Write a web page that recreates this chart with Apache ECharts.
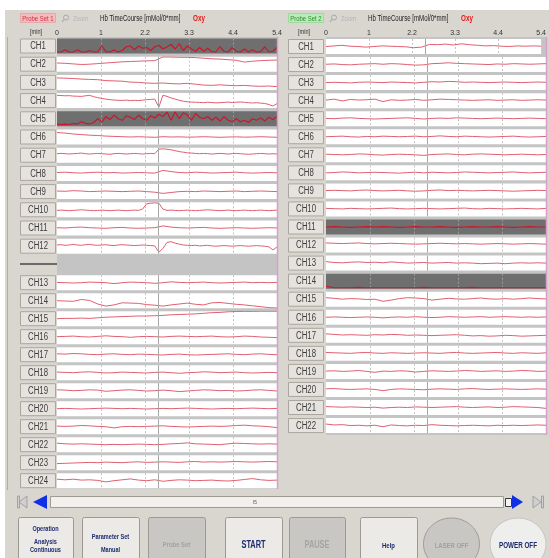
<!DOCTYPE html>
<html>
<head>
<meta charset="utf-8">
<script src="https://cdn.jsdelivr.net/npm/echarts@6/dist/echarts.min.js"></script>
<style>
  html, body { margin: 0; padding: 0; background: #ffffff; }
  #chart { width: 549px; height: 558px; }
</style>
</head>
<body>
<div id="chart"></div>
<script>
// Sample times in minutes (coarse and fine grids)
const TIME = [0,0.2,0.4,0.6,0.8,1.0,1.2,1.4,1.6,1.8,2.0,2.2,2.4,2.6,2.8,3.0,3.2,3.4,3.6,3.8,4.0,4.2,4.4,4.6,4.8,5.0,5.2,5.4];
const TIME_FINE = [0,0.1,0.2,0.3,0.4,0.5,0.6,0.7,0.8,0.9,1.0,1.1,1.2,1.3,1.4,1.5,1.6,1.7,1.8,1.9,2.0,2.1,2.2,2.3,2.4,2.5,2.6,2.7,2.8,2.9,3.0,3.1,3.2,3.3,3.4,3.5,3.6,3.7,3.8,3.9,4.0,4.1,4.2,4.3,4.4,4.5,4.6,4.7,4.8,4.9,5.0,5.1,5.2,5.3,5.4];
const TICK_LABELS = ['0','1','2.2','3.3','4.4','5.4'];
const MARKER_TIME = 2.48;

// Probe Set 1 — Oxy-Hb traces
const P1_CH1 = [1,1,2.5,1,1, 2.5,1,1,2,1, 1,5,1.2,1,2.5, 1,2,4.5,5,2.5, 5,3.5,4,2,4.5, 5.5,3,4.5,6,3, 6.5,2,5,3,1.5, 4,1.5,3.5,1.2,1, 4.5,1.5,1,4,1.5, 1,3,1,2.5,1, 1.2,4.5,1,1.5,4];
const P1_CH2 = [5.8,5.6,5.2,4.8,5,5.4,5.8,6.2,6.6,6.8,7,7.2,7.4,9.8,9.8,9.6,9.6,9.4,9,8.6,8.4,8,7.6,6.4,7,7.4,7.6,7.8];
const P1_CH3 = [8,7.8,7.6,7.2,7,6.8,6.2,6,5.8,5.2,5,4.6,4.4,4.6,4.2,4,4.4,3.8,3.2,3,3.4,3,2.8,3,2.6,2.4,2.6,2.2];
const P1_CH4 = [8.5,8.4,8.2,8.3,8,7.9,7.8,8.2,8.5,7.6, 7,6.4,6,5.6,5.4,5.2,5.1,5.3,5,5.2, 5,5.3,5.6,5.8,6,0.6,8.6,7.8,6.8,6, 5.2,4.6,4.2,4,3.9,3.8,3.6,3.9,3.7,3.5, 3.6,3.8,4,3.7,3.9,4.1,3.8,3.6,3.4,3.6, 3.3,3.1,2.4,1.4,3];
const P1_CH5 = [1.5,1.2,1.5,1.2,2, 1.5,3,2,1.5,2.5, 5,3,6.5,4.5,7.5, 5,4,7,6,4.5, 7.5,5,4,7,5.5, 8,6.5,9.5,4,9.5, 5,9,7.5,4,8.5, 6,5,6.5,4,6, 3.5,6.5,4,3,5, 3,4,2.5,5,4, 5.5,3.5,6,4.5,6.5];
const P1_CH6 = [8,7.6,7,6.6,6.2,6,5.6,5.4,5.2,5,5.2,5,4.8,5.2,5,5.1,4.9,5,5.2,5,4.8,5,5.1,4.9,5,5.2,5,4.8];
const P1_CH7 = [6,6.2,6,5.8,6,6.2,6.4,6,5.8,6, 6.2,6,5.8,5.6,6,6.2,6,5.8,6,6.2, 6,5.8,6,6.2,6, 9,9.2,9,8.6,8, 7.4,7,6.6,6.4,6.2, 6,6.2,6,5.8,6, 6.2,6,5.8,6,6.2, 6,5.8,5.6,5.8,6, 6.2,6,5.8,6,5.8];
const P1_CH8 = [5.6,5.8,5.4,5.2,5.6,5.8,5.4,5.6,5.2,5.4,5.6,5.4,5.2,7,6.2,5.6,5.4,5.8,5.6,5.2,5.4,5.6,5.8,5.4,5.2,5.4,5.6,5.4];
const P1_CH9 = [5.4,5.2,5.6,5.4,5,5.2,5.4,5.2,5,5.2,5.4,5,4.6,3.8,4.4,5,5.2,5,5.4,5.2,5,5.2,5.4,5,5.2,5.4,5.2,5];
const P1_CH10 = [4.6,4.8,4.6,4.4,4.6,4.8,5,4.8,4.6,4.4, 4.6,4.8,4.6,4.4,4.6,4.8,4.6,4.4,4.6,4.8, 4.6,5.5,9,9.4,9.6, 9.4,5.5,4.6,4.8,4.6, 4.4,4.6,4.8,4.6,4.4,4.6,4.8,5,4.8,4.6, 4.4,4.6,4.8,4.6,4.4,4.6,4.8,4.6,4.4,4.6, 4.8,4.6,4.4,4.6,4.8];
const P1_CH11 = [5.2,5,5.4,5.6,5.2,5,4.8,5.2,5.4,5,4.8,5,5.2,6.4,5.6,5.2,5,5.2,5.4,5,4.8,5,5.2,5,4.8,5,5.2,5];
const P1_CH12 = [5.8,6,5.6,5.8,6.2,5.8,5.6,6,6.2,5.8, 5.6,5.8,6,5.6,5.4,5.8,6,5.8,5.6,5.4, 5.6,5.8,5.6,5.4,5.2, 1,3.5,7.5,8,7, 6.4,5.8,5.6,5.4,5.6, 5.2,5.4,5.6,5.2,5, 5.2,5.4,5.2,5,5.2, 5.4,5.2,5,5.2,5.4, 5.2,5,4.6,2.5,4.5];
const P1_CH13 = [5.2,5,4.8,5,5.4,5.2,5,4.4,5,5.4,5.2,5,4.6,5,5.6,5.2,5,5.2,5.4,5,4.8,5,5.2,5.4,5,5.2,5,5.2];
const P1_CH14 = [5,4.8,4.6,5.8,5.2,2.8,1.4,2.2,3.6,3.4,3.2,2.4,2,1.4,2.2,2.8,3.4,2.6,2.2,3.6,3.8,3.2,2.6,2.2,1.6,1,0.4,0.1];
const P1_CH15 = [5,5.2,5.2,5.4,5.2,5.6,6,6.2,6.4,6.6,6.8,6.8,7,7.2,7.6,7.8,8,8.2,8.6,9,9.2,9.6,9.8,9.9,9.9,10,10,10];
const P1_CH16 = [5,5.2,5.4,5,4.8,5.2,5.6,5.2,5,4.6,5,5.2,5,4.8,5.2,5.4,5.2,5,5.2,5.4,5,4.8,5,5.4,5.2,4.8,4.6,4.4];
const P1_CH17 = [5.6,5.4,5.8,5.6,5.2,5,5.4,5.6,5.2,5,5.4,5.2,5,4.8,5.2,5.4,5,4.8,5,5.2,5.4,5.6,5.2,5,5.4,5.6,5.2,5];
const P1_CH18 = [5.4,5.2,5,5.4,5.6,5.2,4.8,5,5.4,5.2,5,4.8,5.2,5.4,5,4.6,5,5.2,5.6,5.4,5,5.2,5.4,5,4.8,5,5.2,5];
const P1_CH19 = [5.6,5.4,5,5.2,5.6,5.4,4.6,5,5.4,5.6,5.2,4.8,5,5.4,5,4.4,4.8,5.2,5.6,5.4,5,5.2,4.8,5,5.4,5.6,5.2,4.8];
const P1_CH20 = [5,5.2,5,4.8,5,5.2,5.4,5.2,5,5.2,5,4.8,5,5.2,5,5.2,5.4,5.2,5,4.8,5,5.2,5,5.2,5.4,5.2,5,5.2];
const P1_CH21 = [5.4,5.2,5.4,5.8,5.6,5.2,5,4.2,5,5.2,5,5.2,5.4,5.6,5.2,5,4.8,5,5.2,5.4,5.2,5.4,5.8,6,5.6,5.4,5,4.4];
const P1_CH22 = [6,5.6,5.4,5.6,5.4,5.2,5,5.2,5,5.2,5.4,5.2,5,5.2,5.6,5.8,6.2,5.6,5.4,5.2,5,5.6,6,5.8,5.6,5.4,5.6,5.4];
const P1_CH23 = [4.4,4.6,4.8,5,5.2,5,5.4,5.2,5,5.4,5.6,5.2,5.4,5.6,5.4,5.2,5.6,5.8,5.4,5.6,5.4,5.6,5.8,5.6,5.4,5.6,5.8,5.6];
const P1_CH24 = [6,5.6,6,5.4,5.6,5.2,4.2,5,5.6,6.2,5.4,5,5.6,4.6,5.2,5.6,5.4,5,5.2,5.4,5,4.8,5.2,5.8,6.4,5.6,5.2,5.4];

// Probe Set 2 — Oxy-Hb traces
const P2_CH1 = [5,5.4,5.8,5.2,5,4.6,5,5.4,5.2,5,4.8,4.2,4.6,6.4,6.2,6.6,6,6.8,6.2,5.8,5.4,5.6,5.2,5,5.4,5.2,5.4,5.2];
const P2_CH2 = [5.2,5.4,5,4.8,5.2,5.4,5.6,5.2,5.6,5.4,5,4.6,4.8,5.6,5.8,6.2,5.8,5.6,5.4,5.2,5,5.4,5.2,5.6,5.4,5.2,5.4,5.6];
const P2_CH3 = [5,5.2,5,4.8,5.2,5.4,5.2,5,5.4,5.2,5,4.8,5.2,5.6,5.4,5.8,5.6,5.2,5.4,5.2,5,5.2,5.4,5.2,5,5.2,5.4,5.2];
const P2_CH4 = [5.4,6,4.8,5.8,5.4,5.6,6,4.4,5.6,5.2,5.4,5.8,5.2,5.6,6,5.8,5.6,5.4,5.2,5.4,5.6,5.2,5.4,5.6,5.2,5.4,5.6,5.4];
const P2_CH5 = [5.2,5,5.4,5.6,5.2,5,4.8,5,5.2,5.4,5.6,5.2,4.8,5.2,5.4,5.2,5.6,5.4,5.2,5,5.2,5.4,5.2,5,5.2,5.4,5.2,5];
const P2_CH6 = [5,5.2,5.4,5,4.8,5.2,5,5.4,5.2,5,5.2,5.4,5,5.2,5.6,5.2,5,5.4,5.2,5,4.8,5,5.2,5.4,5,4.8,5,5.2];
const P2_CH7 = [5.4,5.2,5,5.2,5.6,5.4,5,4.8,5.2,5.4,5.2,5,4.6,5.2,5.4,5.6,5.2,5,5.4,5.6,5.4,5.2,5,5.2,5.4,5.2,5,5.2];
const P2_CH8 = [5,5.2,5.6,5.4,5,5.2,5.4,5.2,5,4.8,5.2,5.4,5,5.4,5.2,5,5.2,5.6,5.4,5.2,5,5.2,5.4,5.6,5.2,5,5.2,5.4];
const P2_CH9 = [5.2,5.4,5.2,5,5.4,5.6,5.2,5,5.2,5.4,5,4.8,5,5.4,5.6,5.2,5.4,5.2,5,5.2,5.4,5.2,5,4.8,5,5.2,5.4,5.2];
const P2_CH10 = [5.4,5.2,5,5.4,5.2,5,5.2,5.4,5.6,5.2,5,5.2,5.4,5.2,5,5.2,5.4,5.6,5.2,5,5.4,5.2,5,5.2,5.4,5.2,5,5.4];
const P2_CH11 = [5,5.2,5,4.8,5,5.2,5,5.2,5,4.8,5,5.2,5,5,5.2,5,4.8,5,5.2,5,5,5.2,5,4.8,5,5.2,5,5];
const P2_CH12 = [6.4,6.2,6,6.2,6.4,6,5.8,6,6.2,6,5.8,5.6,5.8,6,6.2,6,5.8,6,5.8,5.6,5.8,6,5.8,5.6,5.8,6,5.8,5.6];
const P2_CH13 = [6,5.4,5.2,5.6,5.8,5.4,5.6,5.2,5.8,5.4,5,5.2,5.4,5,5.2,5.4,5,5.2,5,4.6,4.8,5,4.6,5,5.2,5,5.2,5];
const P2_CH14 = [1.6,0.6,0.6,0.6,0.8,0.6,0.6,0.6,0.6,0.6,0.6,0.6,0.8,0.6,0.6,0.6,0.6,0.6,0.8,0.6,0.6,0.6,0.6,0.6,0.6,0.6,0.6,0.6];
const P2_CH15 = [6,5.6,5,5.4,5.2,4.8,5,3.6,4.4,5.4,6,5.8,5.4,4.4,5,5.6,5.2,5,5.4,5.8,5.2,5,5.4,5,5.4,5.8,5.4,5.2];
const P2_CH16 = [5,5.2,5,4.8,5,5.2,5,4.6,5,5.2,5,5.4,5,4.8,5,5.4,5.2,5,5.2,5.4,5,5.2,5.4,5.2,5,5.2,5,5.2];
const P2_CH17 = [6,5.6,5.2,5.4,5.2,5,5.4,5.2,5.6,5.4,5,5.2,5,4.8,5,5.2,5.4,5,4.6,4.8,4.4,4.6,5,4.8,4.4,4.6,4.8,5];
const P2_CH18 = [5.6,5.4,5.2,5,5.4,5.6,5.2,5,5.4,5.2,5,5.2,5.4,5.2,5,5.4,5.6,5.2,5,5.2,5.4,5.6,5.2,5,5.4,5.2,5,5.4];
const P2_CH19 = [5.2,5.4,5,5.2,5.6,5,4.4,5.2,5,5.4,5.2,4.6,5,5.4,5.2,5,5.2,5.6,5.4,5,5.2,5.4,5,5.2,5.6,5.4,5,5.2];
const P2_CH20 = [5.4,5.6,5.2,5,5.2,5.4,5,4.2,5,5.4,5.2,5,4.8,5.2,5.4,5.2,5,5.4,5.6,5.2,5,5.2,5.4,5.2,5,5.2,5.4,5.2];
const P2_CH21 = [5.6,5.4,5.2,5.4,5.2,5,5.2,4.6,5,5.2,5,5.4,5.2,5,5.2,5.4,5.6,5.2,5,5.2,5.4,5,5.2,5.6,5.4,5.2,5,4.4];
const P2_CH22 = [6,5.4,5.6,5,5.2,4.8,5.2,4.2,5.4,5,4.8,5.2,5,5.6,5.2,5,4.8,5,5.2,5,4.8,5.2,5,5.2,5,5.2,5.4,5.2];

const P1_TRACES = [P1_CH1,P1_CH2,P1_CH3,P1_CH4,P1_CH5,P1_CH6,P1_CH7,P1_CH8,P1_CH9,P1_CH10,P1_CH11,P1_CH12,
                   P1_CH13,P1_CH14,P1_CH15,P1_CH16,P1_CH17,P1_CH18,P1_CH19,P1_CH20,P1_CH21,P1_CH22,P1_CH23,P1_CH24];
const P2_TRACES = [P2_CH1,P2_CH2,P2_CH3,P2_CH4,P2_CH5,P2_CH6,P2_CH7,P2_CH8,P2_CH9,P2_CH10,P2_CH11,
                   P2_CH12,P2_CH13,P2_CH14,P2_CH15,P2_CH16,P2_CH17,P2_CH18,P2_CH19,P2_CH20,P2_CH21,P2_CH22];
const P1_SATURATED = [1, 5];
const P2_SATURATED = [11, 14];

// ---- layout ----
const BG = '#d9d6d0';
const ROW_H = 15;
const PLOT_W = 220;
const P1 = { labelX: 20, plotX: 57 };
const P2 = { labelX: 288, plotX: 326 };
function p1Center(n) { return n <= 12 ? 46 + 18.2 * (n - 1) : 282.7 + 18 * (n - 13); }
function p2Center(n) { return 46.5 + 18.05 * (n - 1); }

const UI_FONT = '"Liberation Sans", Arial, sans-serif';
const grids = [], xAxes = [], yAxes = [], series = [], gfx = [];

function txt(x, y, s, size, color, opts) {
  opts = opts || {};
  gfx.push({
    type: 'text', x: x, y: y, scaleX: opts.sx || 0.74, z: opts.z || 20, silent: true,
    style: {
      text: s, fill: color,
      font: (opts.bold ? 'bold ' : '') + size + 'px ' + UI_FONT,
      align: opts.align || 'center', verticalAlign: 'middle',
      textAlign: opts.align || 'center', textVerticalAlign: 'middle'
    }
  });
}
function rect(x, y, w, h, fill, stroke, z, r) {
  gfx.push({ type: 'rect', z: z || 5, silent: true,
    shape: { x: x, y: y, width: w, height: h, r: r || 0 },
    style: { fill: fill, stroke: stroke || null, lineWidth: 1 } });
}
function line(x1, y1, x2, y2, color, w, z) {
  gfx.push({ type: 'line', z: z || 30, silent: true,
    shape: { x1: x1, y1: y1, x2: x2, y2: y2 },
    style: { stroke: color, lineWidth: w || 1 } });
}
function poly(points, fill, stroke, z) {
  gfx.push({ type: 'polygon', z: z || 10, silent: true,
    shape: { points: points }, style: { fill: fill, stroke: stroke || null, lineWidth: 1 } });
}

function addRow(values, label, panel, center, dark, showTicks) {
  const idx = grids.length;
  const top = center - ROW_H / 2;
  grids.push({ left: panel.plotX, top: top, width: PLOT_W, height: ROW_H, show: true,
    backgroundColor: dark ? '#6f6f6f' : '#ffffff', borderWidth: 0 });
  xAxes.push({
    gridIndex: idx, type: 'value', min: 0, max: 5.4, interval: 1.08, position: 'top',
    axisLine: { show: false }, axisTick: { show: false },
    axisLabel: { show: showTicks, margin: 2, fontSize: 7, color: '#333', fontFamily: UI_FONT,
      showMinLabel: true, showMaxLabel: true,
      formatter: function (v) { return TICK_LABELS[Math.round(v / 1.08)]; } },
    splitLine: { show: true, showMinLine: false, showMaxLine: false,
      lineStyle: { color: dark ? '#9c9c9c' : '#c4c4c4', type: [2, 2], width: 1 } }
  });
  yAxes.push({ gridIndex: idx, type: 'value', min: 0, max: 10, show: false });
  const t = values.length === TIME_FINE.length ? TIME_FINE : TIME;
  series.push({
    type: 'line', xAxisIndex: idx, yAxisIndex: idx, silent: true, animation: false,
    symbol: 'none', showSymbol: false,
    data: values.map(function (v, i) { return [t[i], v]; }),
    lineStyle: { color: dark ? '#c8182a' : '#e06070', width: dark ? 1.2 : 1 },
    markLine: dark ? undefined : {
      silent: true, symbol: ['none', 'none'], animation: false,
      label: { show: false },
      lineStyle: { color: '#a6a6a6', type: 'solid', width: 1 },
      data: [{ xAxis: MARKER_TIME }]
    }
  });
  // channel label box
  rect(panel.labelX + 0.5, top + 0.5, 35, ROW_H - 1, '#e6e3de', '#aaa69f', 6);
  txt(panel.labelX + 18, center + 0.5, label, 10, '#3c3c3c', { sx: 0.78 });
}

// ---- frame / backgrounds ----
rect(0, 0, 549, 10, '#ffffff', null, 1);
rect(0, 0, 5, 558, '#ffffff', null, 1);
rect(P1.plotX, 37, PLOT_W, 452, '#c4c4c4', null, -5);
rect(P2.plotX, 37, PLOT_W, 398, '#c4c4c4', null, -5);
line(7.5, 37, 7.5, 490, '#b2aea7', 1, 3);
// pink right edges of the plot columns
line(P1.plotX + PLOT_W + 0.5, 37, P1.plotX + PLOT_W + 0.5, 489, '#dc9ccc', 1.5, 40);
line(P2.plotX + PLOT_W + 0.5, 37, P2.plotX + PLOT_W + 0.5, 435, '#dc9ccc', 1.5, 40);
// separator in the label column between the two Probe Set 1 groups
rect(20, 263, 37, 2, '#6a6a6a', null, 6);

// ---- rows ----
P1_TRACES.forEach(function (vals, i) {
  const n = i + 1;
  addRow(vals, 'CH' + n, P1, p1Center(n), P1_SATURATED.indexOf(n) >= 0, n === 1);
});
P2_TRACES.forEach(function (vals, i) {
  const n = i + 1;
  addRow(vals, 'CH' + n, P2, p2Center(n), P2_SATURATED.indexOf(n) >= 0, n === 1);
});

// ---- panel headers ----
function header(x0, title, boxFill, boxStroke, boxText) {
  rect(x0 + 0.5, 13.5, 35, 9, boxFill, boxStroke, 12);
  txt(x0 + 18, 18.5, title, 8, boxText, { sx: 0.74 });
  gfx.push({ type: 'circle', z: 10, silent: true, shape: { cx: x0 + 46, cy: 17.5, r: 2.5 },
    style: { fill: 'none', stroke: '#a8a8a8', lineWidth: 1 } });
  line(x0 + 44, 19.5, x0 + 42, 22, '#a8a8a8', 1.2, 10);
  txt(x0 + 53, 18.5, 'Zoom', 8, '#b4b4b4', { align: 'left', sx: 0.74 });
  txt(x0 + 80, 18.5, 'Hb TimeCourse [mMol/0*mm]', 8.5, '#222', { align: 'left', sx: 0.72 });
  txt(x0 + 173, 18.5, 'Oxy', 8.5, '#e01818', { align: 'left', sx: 0.74, bold: true });
  txt(x0 + 16, 32, '[min]', 7.5, '#333', { sx: 0.74 });
}
header(20, 'Probe Set 1', '#f5bcbc', '#e8a8a8', '#c8304a');
header(288, 'Probe Set 2', '#b8ecb8', '#a0d8a0', '#2e8a2e');

// ---- scroll bar ----
rect(50.5, 496.5, 453, 11, '#f1f0ec', '#9e9b95', 5);
txt(255, 502, 'I5', 6, '#555', { sx: 0.8 });
poly([[19, 502], [27, 496], [27, 508]], '#cfcfcf', '#a2a2a2', 10);
rect(17.5, 496, 2, 12, '#cfcfcf', '#a2a2a2', 10);
poly([[33, 502], [47, 495], [47, 509]], '#1030e8', null, 10);
rect(505.5, 498.5, 6, 8, '#f4f4f4', '#3a3a3a', 10);
poly([[523, 502], [512, 495], [512, 509]], '#1030e8', null, 10);
poly([[541, 502], [533, 496], [533, 508]], '#cfcfcf', '#a2a2a2', 10);
rect(541.5, 496, 2, 12, '#cfcfcf', '#a2a2a2', 10);

// ---- control buttons ----
const NAVY = '#1e2a6e';
function button(x, w, fill, lines, color) {
  rect(x + 0.5, 517.5, w, 46, fill, '#9c9892', 5, 2);
  lines.forEach(function (l) { txt(x + w / 2, l[1], l[0], l[2] || 8, color, { bold: true, sx: 0.74 }); });
}
button(18, 55, '#ebeae6', [['Operation', 529, 7.5], ['Analysis', 541.5, 7.5], ['Continuous', 549.5, 7.5]], NAVY);
button(82, 57, '#ebeae6', [['Parameter Set', 537, 7.5], ['Manual', 550, 7.5]], NAVY);
button(148, 57, '#c9c7c3', [['Probe Set', 545, 8]], '#a2a2a2');
button(225, 57, '#ebeae6', [['START', 545, 10]], NAVY);
button(289, 56, '#c9c7c3', [['PAUSE', 545, 10]], '#a4a4a4');
button(360, 57, '#ebeae6', [['Help', 546, 8]], NAVY);
gfx.push({ type: 'ellipse', z: 5, silent: true, shape: { cx: 451.5, cy: 544, rx: 28, ry: 26 },
  style: { fill: '#c9c7c3', stroke: '#a09d98', lineWidth: 1 } });
txt(451.5, 546, 'LASER OFF', 8, '#a0a0a0', { bold: true, sx: 0.74 });
gfx.push({ type: 'ellipse', z: 5, silent: true, shape: { cx: 518, cy: 544, rx: 28, ry: 26 },
  style: { fill: '#eeeeec', stroke: '#c6c4c0', lineWidth: 1 } });
txt(518, 546, 'POWER OFF', 8.5, NAVY, { bold: true, sx: 0.74 });

const chart = echarts.init(document.getElementById('chart'), null, { renderer: 'canvas' });
chart.setOption({
  backgroundColor: BG,
  animation: false,
  grid: grids,
  xAxis: xAxes,
  yAxis: yAxes,
  series: series,
  graphic: { elements: gfx }
});
</script>
</body>
</html>
